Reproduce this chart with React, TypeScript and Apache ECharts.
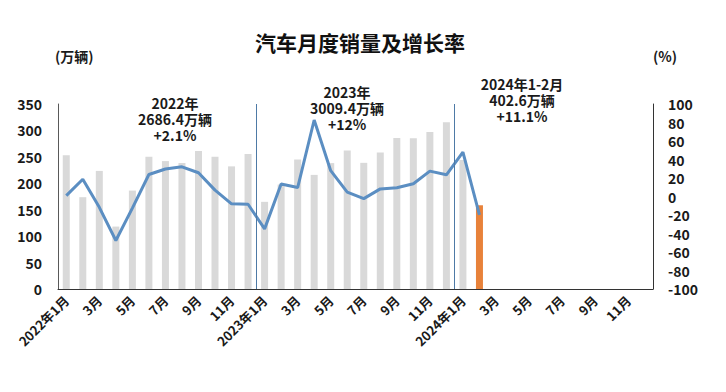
import React, { useEffect, useRef } from "react";
import * as echarts from "echarts";

const months: string[] = [
  "2022年1月", "2月", "3月", "4月", "5月", "6月", "7月", "8月", "9月", "10月", "11月", "12月",
  "2023年1月", "2月", "3月", "4月", "5月", "6月", "7月", "8月", "9月", "10月", "11月", "12月",
  "2024年1月", "2月", "3月", "4月", "5月", "6月", "7月", "8月", "9月", "10月", "11月", "12月",
];

const sales2022: number[] = [253.1, 173.7, 223.4, 118.1, 186.2, 250.2, 242.0, 238.3, 261.0, 250.0, 232.0, 255.6];
const sales2023: number[] = [164.9, 197.6, 245.1, 215.9, 238.2, 262.2, 238.7, 258.2, 285.8, 285.3, 297.0, 315.6];
const sales2024: number[] = [243.9, 158.4];

const growth2022: number[] = [0.9, 18.7, -11.7, -47.6, -12.6, 23.8, 29.7, 32.1, 25.7, 6.9, -7.9, -8.4];
const growth2023: number[] = [-35.0, 13.5, 9.7, 82.7, 27.9, 4.8, -2.3, 8.2, 9.5, 13.8, 27.4, 23.5];
const growth2024: number[] = [47.9, -19.9];

const yearBoundaries: number[] = [12, 24];

const annotations: { x: number; y: number; lines: string[] }[] = [
  { x: 175, y: 103, lines: ["2022年", "2686.4万辆", "+2.1%"] },
  { x: 347, y: 92, lines: ["2023年", "3009.4万辆", "+12%"] },
  { x: 522, y: 84, lines: ["2024年1-2月", "402.6万辆", "+11.1%"] },
];

const leftTicks = { min: 0, max: 350, interval: 50 };
const rightTicks = { min: -100, max: 100, interval: 20 };

const FONT = "'Noto Sans CJK SC', 'Noto Sans', sans-serif";
const GREY = "#d9d9d9";
const ORANGE = "#e8823a";
const BLUE = "#5b8ec2";

export default function App() {
  const ref = useRef<HTMLDivElement>(null);

  useEffect(() => {
    if (!ref.current) return;
    const chart = echarts.init(ref.current, undefined, { renderer: "svg" });

    const salesAll = [...sales2022, ...sales2023, ...sales2024];
    const growthAll = [...growth2022, ...growth2023, ...growth2024];
    const lastIdx = salesAll.length - 1;
    const barData = months.map((_, i) =>
      i < salesAll.length
        ? { value: salesAll[i], itemStyle: { color: i === lastIdx ? ORANGE : GREY } }
        : null
    );
    const lineData = months.map((_, i) => (i < growthAll.length ? growthAll[i] : null));

    const textStyle = { fontFamily: FONT, fontWeight: "bold" as const, fontSize: 14, fill: "#1a1a1a" };

    const annoGraphics: any[] = [];
    annotations.forEach((a) => {
      a.lines.forEach((t, k) => {
        annoGraphics.push({
          type: "text",
          x: a.x,
          y: a.y + k * 16,
          style: { ...textStyle, text: t, align: "center", verticalAlign: "middle", lineHeight: 15 },
        });
      });
    });

    chart.setOption({
      animation: false,
      textStyle: { fontFamily: FONT },
      title: {
        text: "汽车月度销量及增长率",
        left: 355,
        top: 26,
        textAlign: "center",
        textStyle: { fontFamily: FONT, fontWeight: "bold", fontSize: 21, color: "#111" },
      },
      grid: { left: 58, right: 73, top: 104, bottom: 103, containLabel: false },
      xAxis: [
        {
          type: "category",
          data: months,
          boundaryGap: true,
          axisLine: { show: true, lineStyle: { color: "#333", width: 1 } },
          axisTick: { show: false },
          axisLabel: {
            interval: 1,
            rotate: 45,
            margin: 9,
            fontFamily: FONT,
            fontWeight: "bold",
            fontSize: 13,
            color: "#1a1a1a",
          },
          splitLine: { show: false },
        },
        { type: "value", min: 0, max: 36, show: false, position: "bottom" },
      ],
      yAxis: [
        {
          type: "value",
          min: leftTicks.min,
          max: leftTicks.max,
          interval: leftTicks.interval,
          axisLine: { show: true, lineStyle: { color: "#595959", width: 1 } },
          axisTick: { show: false },
          splitLine: { show: false },
          axisLabel: { margin: 16, fontFamily: FONT, fontWeight: "bold", fontSize: 14, color: "#1a1a1a" },
        },
        {
          type: "value",
          min: rightTicks.min,
          max: rightTicks.max,
          interval: rightTicks.interval,
          position: "right",
          axisLine: { show: true, lineStyle: { color: "#333", width: 1 } },
          axisTick: { show: false },
          splitLine: { show: false },
          axisLabel: { margin: 15, fontFamily: FONT, fontWeight: "bold", fontSize: 14, color: "#1a1a1a" },
        },
      ],
      series: [
        {
          type: "bar",
          name: "销量",
          xAxisIndex: 0,
          yAxisIndex: 0,
          data: barData,
          barWidth: 7,
          silent: true,
        },
        {
          type: "line",
          name: "增长率",
          xAxisIndex: 0,
          yAxisIndex: 1,
          data: lineData,
          showSymbol: false,
          symbol: "none",
          lineStyle: { color: BLUE, width: 3 },
          itemStyle: { color: BLUE },
          silent: true,
        },
        {
          type: "line",
          name: "sep",
          xAxisIndex: 1,
          yAxisIndex: 0,
          data: [],
          silent: true,
          markLine: {
            silent: true,
            symbol: "none",
            label: { show: false },
            lineStyle: { color: "#4e7aa6", width: 1, type: "solid" },
            data: yearBoundaries.map((b) => ({ xAxis: b })),
          },
        },
      ],
      graphic: [
        { type: "text", left: 55, top: 49, style: { ...textStyle, text: "(万辆)" } },
        { type: "text", left: 653, top: 49, style: { ...textStyle, text: "(%)" } },
        ...annoGraphics,
      ],
    });

    return () => chart.dispose();
  }, []);

  return (
    <div
      ref={ref}
      style={{ position: "fixed", left: 0, top: 0, width: 726, height: 392, background: "#fff" }}
    />
  );
}
